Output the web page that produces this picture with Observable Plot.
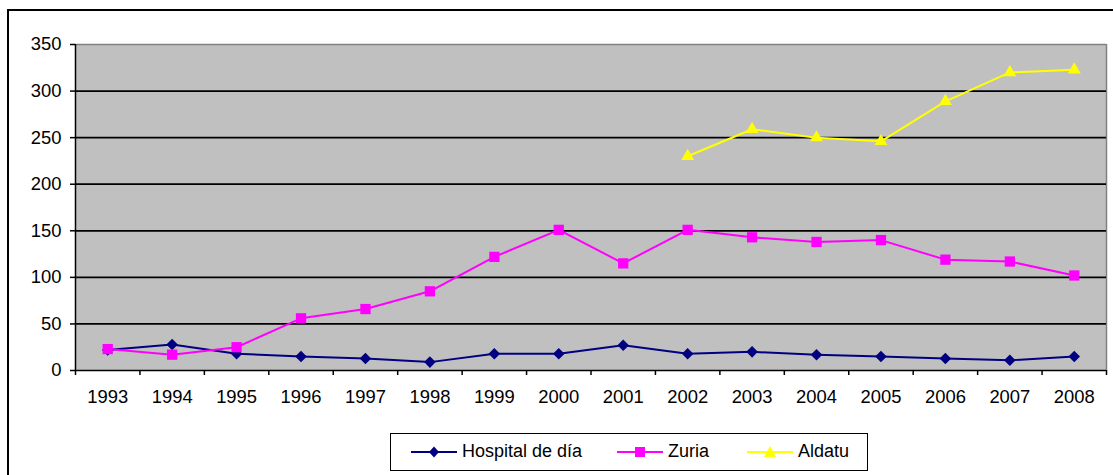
<!DOCTYPE html>
<html>
<head>
<meta charset="utf-8">
<script src="https://cdn.jsdelivr.net/npm/d3@7"></script>
<script src="https://cdn.jsdelivr.net/npm/@observablehq/plot@0.6"></script>
<style>
  html, body { margin: 0; padding: 0; background: #fff; }
  #page { position: relative; width: 1113px; height: 475px; overflow: hidden; font-family: "Liberation Sans", Arial, sans-serif; }
  #frame { position: absolute; left: 7px; top: 9px; width: 1130px; height: 490px; border: 2px solid #000; box-sizing: border-box; }
  #chart { position: absolute; left: 0; top: 0; }
  #legend { position: absolute; left: 390px; top: 433px; width: 478px; height: 38px; border: 1.5px solid #000; box-sizing: border-box; background: #fff; }
  .item { position: absolute; top: 0; height: 35px; display: flex; align-items: center; font-size: 18px; color: #000; }
  .item svg { margin-right: 5px; }
</style>
</head>
<body>
<div id="page">
  <div id="frame"></div>
  <div id="chart"></div>
  <div id="legend"></div>
</div>
<script>
const years = [1993,1994,1995,1996,1997,1998,1999,2000,2001,2002,2003,2004,2005,2006,2007,2008];
const hospitalDeDia = [22,28,18,15,13,9,18,18,27,18,20,17,15,13,11,15];
const zuria = [23,17,25,56,66,85,122,151,115,151,143,138,140,119,117,102];
const aldatuYears = [2002,2003,2004,2005,2006,2007,2008];
const aldatu = [230,259,250,246,289,320,323];
const yTicks = [0,50,100,150,200,250,300,350];
const gridTicks = [50,100,150,200,250,300];

const seriesNames = ["Hospital de día","Zuria","Aldatu"];
const colors = ["#000080","#FF00FF","#FFFF00"];

const hData = years.map((y,i) => ({year: y, value: hospitalDeDia[i]}));
const zData = years.map((y,i) => ({year: y, value: zuria[i]}));
const aData = aldatuYears.map((y,i) => ({year: y, value: aldatu[i]}));
const bounds = years.map(y => y - 0.5).concat([years[years.length-1] + 0.5]);

const chart = Plot.plot({
  width: 1113,
  height: 420,
  marginLeft: 75,
  marginRight: 7,
  marginTop: 44,
  marginBottom: 50,
  style: {fontFamily: "'Liberation Sans', Arial, sans-serif", fontSize: "18.4px", color: "#000", background: "transparent", overflow: "visible"},
  x: {type: "linear", domain: [1992.5, 2008.5]},
  y: {type: "linear", domain: [0, 350]},
  marks: [
    Plot.frame({fill: "#C0C0C0", stroke: null}),
    Plot.ruleY([350], {stroke: "#808080", strokeWidth: 1.5}),
    Plot.ruleX([2008.5], {stroke: "#808080", strokeWidth: 1.5}),
    Plot.ruleY(gridTicks, {stroke: "#000", strokeWidth: 1.8}),
    Plot.ruleY([0], {stroke: "#000", strokeWidth: 1.5}),
    Plot.ruleX([1992.5], {stroke: "#000", strokeWidth: 1.5}),
    Plot.axisY({ticks: yTicks, tickSize: 5, tickPadding: 9, tickFormat: d => String(d), label: null, strokeWidth: 1.5, fontSize: 18.4}),
    Plot.axisX({ticks: bounds, tickSize: 5, tickFormat: () => "", label: null, strokeWidth: 1.5}),
    Plot.axisX({ticks: years, tickSize: 0, tickPadding: 19, tickFormat: d => String(d), label: null, fontSize: 18.4}),
    Plot.line(hData, {x: "year", y: "value", stroke: colors[0], strokeWidth: 2}),
    Plot.line(zData, {x: "year", y: "value", stroke: colors[1], strokeWidth: 2}),
    Plot.line(aData, {x: "year", y: "value", stroke: colors[2], strokeWidth: 2}),
    Plot.dot(hData, {x: "year", y: "value", symbol: "square", rotate: 45, r: 4.6, fill: colors[0], stroke: null}),
    Plot.dot(zData, {x: "year", y: "value", symbol: "square", r: 5.8, fill: colors[1], stroke: null}),
    Plot.dot(aData, {x: "year", y: "value", symbol: "triangle", r: 4.8, fill: colors[2], stroke: null})
  ]
});
document.getElementById("chart").appendChild(chart);

// Legend
const legend = document.getElementById("legend");
const itemLefts = [20, 226, 356];
const markerShapes = ["diamond", "square", "triangle"];
seriesNames.forEach((name, i) => {
  const div = document.createElement("div");
  div.className = "item";
  div.style.left = itemLefts[i] + "px";
  const ns = "http://www.w3.org/2000/svg";
  const svg = document.createElementNS(ns, "svg");
  svg.setAttribute("width", 46);
  svg.setAttribute("height", 20);
  const line = document.createElementNS(ns, "line");
  line.setAttribute("x1", 0); line.setAttribute("x2", 46);
  line.setAttribute("y1", 10); line.setAttribute("y2", 10);
  line.setAttribute("stroke", colors[i]); line.setAttribute("stroke-width", 2);
  svg.appendChild(line);
  const p = document.createElementNS(ns, "path");
  let d;
  if (markerShapes[i] === "diamond") d = "M23,4.5L28,10L23,15.5L18,10Z";
  else if (markerShapes[i] === "square") d = "M18,5H28V15H18Z";
  else d = "M23,4L29,15H17Z";
  p.setAttribute("d", d);
  p.setAttribute("fill", colors[i]);
  svg.appendChild(p);
  div.appendChild(svg);
  const span = document.createElement("span");
  span.textContent = name;
  div.appendChild(span);
  legend.appendChild(div);
});
</script>
</body>
</html>
